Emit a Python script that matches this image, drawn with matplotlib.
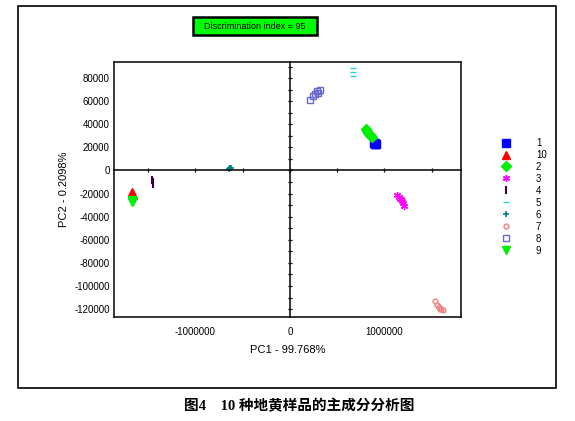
import matplotlib
matplotlib.use("Agg")
import matplotlib.pyplot as plt
from matplotlib.patches import Rectangle
import numpy as np

plt.rcParams['font.family'] = ['Liberation Sans', 'DejaVu Sans']

# PCA scores per sample group (PC1, PC2)
groups = ['1', '10', '2', '3', '4', '5', '6', '7', '8', '9']

pc1_g1 = [0.885e6, 0.895e6, 0.905e6, 0.912e6, 0.900e6]
pc2_g1 = [23500, 22800, 23000, 22500, 23800]

pc1_g10 = [-1.675e6, -1.670e6, -1.665e6]
pc2_g10 = [-18500, -20000, -21500]

pc1_g2 = [0.800e6, 0.815e6, 0.830e6, 0.845e6, 0.860e6, 0.870e6]
pc2_g2 = [35500, 34000, 32500, 31000, 29800, 29000]

pc1_g3 = [1.130e6, 1.150e6, 1.170e6, 1.190e6, 1.200e6, 1.210e6, 1.160e6]
pc2_g3 = [-21500, -23000, -24500, -26000, -28000, -30500, -25000]

pc1_g4 = [-1.455e6, -1.452e6, -1.449e6]
pc2_g4 = [-8500, -10000, -11500]

pc1_g5 = [0.670e6, 0.670e6, 0.670e6]
pc2_g5 = [82000, 85500, 89000]

pc1_g6 = [-0.640e6, -0.630e6, -0.620e6, -0.635e6]
pc2_g6 = [1500, 2500, 1800, 2000]

pc1_g7 = [1.535e6, 1.560e6, 1.580e6, 1.600e6, 1.620e6, 1.590e6]
pc2_g7 = [-113000, -116000, -118000, -120000, -121000, -119500]

pc1_g8 = [0.215e6, 0.240e6, 0.270e6, 0.290e6, 0.320e6, 0.300e6]
pc2_g8 = [61000, 64500, 66000, 68500, 69500, 67000]

pc1_g9 = [-1.670e6, -1.672e6, -1.666e6]
pc2_g9 = [-25500, -27500, -26500]

scores = {
    '1': (pc1_g1, pc2_g1), '10': (pc1_g10, pc2_g10), '2': (pc1_g2, pc2_g2),
    '3': (pc1_g3, pc2_g3), '4': (pc1_g4, pc2_g4), '5': (pc1_g5, pc2_g5),
    '6': (pc1_g6, pc2_g6), '7': (pc1_g7, pc2_g7), '8': (pc1_g8, pc2_g8),
    '9': (pc1_g9, pc2_g9),
}

styles = {
    '1':  dict(marker='s', color='#0000FF', ms=6),
    '10': dict(marker='^', color='#FF0000', ms=6),
    '2':  dict(marker='D', color='#00EE00', ms=5.5),
    '3':  dict(marker=(6, 2, 0), color='#FF00FF', ms=5, mew=1.0),
    '4':  dict(marker='|', color='#400040', ms=6, mew=1.5),
    '5':  dict(marker='_', color='#20D8D8', ms=5, mew=1.0),
    '6':  dict(marker='+', color='#008080', ms=5, mew=1.2),
    '7':  dict(marker='o', color='#F08080', ms=3.5, mfc='none', mew=1.0),
    '8':  dict(marker='s', color='#6868D0', ms=5, mfc='none', mew=1.0),
    '9':  dict(marker='v', color='#00EE00', ms=6),
}

x_labels = [-1000000, 0, 1000000]
y_labels = list(range(-120000, 80001, 20000))

fig = plt.figure(figsize=(5.75, 4.21), dpi=100)
fig.patch.set_facecolor('white')

# outer frame
fig.patches.append(Rectangle((18 / 575, 1 - 388 / 421), 538 / 575, 382 / 421,
                             transform=fig.transFigure, fill=False,
                             edgecolor='black', lw=1.2))

# discrimination index box
fig.patches.append(Rectangle((193 / 575, 1 - 35 / 421), 124 / 575, 18 / 421,
                             transform=fig.transFigure, facecolor='#00FF00',
                             edgecolor='black', lw=1.8))
fig.text(255 / 575, 1 - 26.5 / 421, 'Discrimination index = 95',
         ha='center', va='center', fontsize=6.5)

pos = [114 / 575, 1 - 317 / 421, 347 / 575, 255 / 421]
ax = fig.add_axes(pos)
xlim = (-1.862e6, 1.81e6)
ylim = (-126800, 93900)
ax.set_xlim(*xlim)
ax.set_ylim(*ylim)

for g in groups:
    x, y = scores[g]
    st = dict(styles[g])
    ax.plot(x, y, linestyle='none', label=g, **st)

ax.set_xticks(x_labels)
ax.set_xticklabels([str(v) for v in x_labels])
ax.set_yticks(y_labels)
ax.set_yticklabels([str(v) for v in y_labels])
ax.tick_params(axis='x', length=0, pad=7.5, labelsize=7)
ax.tick_params(axis='y', length=0, pad=3, labelsize=7)
for s in ax.spines.values():
    s.set_linewidth(1.1)

ax.set_xlabel('PC1 - 99.768%', fontsize=8)
ax.xaxis.set_label_coords(0.5, -0.11)
ax.set_ylabel('PC2 - 0.2098%', fontsize=8)
ax.yaxis.set_label_coords(-0.13, 0.5)

# zero lines carrying tick marks
ax2 = fig.add_axes(pos, sharex=ax, sharey=ax)
ax2.patch.set_visible(False)
ax2.spines['top'].set_visible(False)
ax2.spines['right'].set_visible(False)
ax2.spines['left'].set_position(('data', 0))
ax2.spines['bottom'].set_position(('data', 0))
ax2.spines['left'].set_linewidth(1.1)
ax2.spines['bottom'].set_linewidth(1.1)
ax2.xaxis.set_major_locator(matplotlib.ticker.MultipleLocator(500000))
ax2.yaxis.set_major_locator(matplotlib.ticker.MultipleLocator(10000))
ax2.tick_params(direction='inout', length=3.5, width=0.9,
                labelbottom=False, labelleft=False)
ax2.set_xlim(*xlim)
ax2.set_ylim(*ylim)

handles, labels = ax.get_legend_handles_labels()
fig.legend(handles, labels, loc='upper left',
           bbox_to_anchor=(500 / 575, 1 - 138 / 421), frameon=False,
           fontsize=7, handlelength=1.2, handletextpad=2.5,
           labelspacing=0.2, borderpad=0, borderaxespad=0)

fig.text(299 / 575, 1 - 406 / 421, '图4　10 种地黄样品的主成分分析图',
         ha='center', va='center', fontsize=10.5, fontweight='bold',
         family=['Liberation Serif', 'Noto Sans CJK SC'])

fig.savefig('out.png', dpi=100, facecolor='white')
